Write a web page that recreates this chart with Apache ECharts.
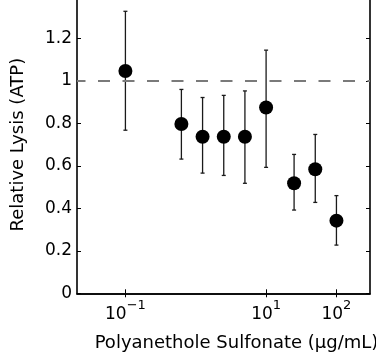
<!DOCTYPE html>
<html>
<head>
<meta charset="utf-8">
<script src="https://cdn.jsdelivr.net/npm/echarts@6/dist/echarts.min.js"></script>
<style>
  html, body { margin: 0; padding: 0; background: #fff; }
  #chart { width: 376px; height: 360px; }
</style>
</head>
<body>
<div id="chart"></div>
<script>
// Polyanethole sulfonate dose series (µg/mL) and relative lysis (ATP)
const concentrations = [0.1, 0.625, 1.25, 2.5, 5, 10, 25, 50, 100];
const relativeLysis  = [1.047, 0.797, 0.737, 0.737, 0.737, 0.875, 0.518, 0.584, 0.342];
const errorLower     = [0.768, 0.632, 0.566, 0.555, 0.518, 0.593, 0.392, 0.428, 0.227];
const errorUpper     = [1.328, 0.960, 0.922, 0.932, 0.953, 1.145, 0.654, 0.748, 0.460];

// Axis ticks
const xTickValues = [0.1, 10, 100];
const yTickStep = 0.2;
const referenceLevel = 1;

const FONT = 'DejaVu Sans';

function powerLabel(v) {
  const e = Math.round(Math.log10(v));
  const exp = e < 0 ? '\u2212' + (-e) : String(e);
  return '{b|10}{s|' + exp + '}';
}

const chart = echarts.init(document.getElementById('chart'), null, { renderer: 'canvas' });

const axisLine = { show: true, lineStyle: { color: '#000', width: 1.6 } };
const axisTick = { show: true, inside: true, length: 4, lineStyle: { color: '#000', width: 1 } };

chart.setOption({
  animation: false,
  backgroundColor: '#fff',
  grid: { left: 77, right: 6, top: -4, bottom: 66.7, containLabel: false, outerBoundsMode: 'none' },
  xAxis: [
    {
      type: 'log',
      logBase: 10,
      min: 0.0205,
      max: 300,
      position: 'bottom',
      axisLine: axisLine,
      axisTick: Object.assign({ customValues: xTickValues }, axisTick),
      minorTick: { show: false },
      splitLine: { show: false },
      axisLabel: {
        customValues: xTickValues,
        margin: 6,
        formatter: powerLabel,
        rich: {
          b: { fontFamily: FONT, fontSize: 17, color: '#000', lineHeight: 24, verticalAlign: 'bottom' },
          s: { fontFamily: FONT, fontSize: 13, color: '#000', lineHeight: 9, verticalAlign: 'top' }
        }
      },
      name: 'Polyanethole Sulfonate (\u03bcg/mL)',
      nameLocation: 'middle',
      nameGap: 41,
      nameTextStyle: { fontFamily: FONT, fontSize: 18, color: '#000', padding: [0, 0, 0, 26] }
    },
    {
      type: 'log',
      logBase: 10,
      min: 0.0205,
      max: 300,
      position: 'top',
      axisLine: axisLine,
      axisTick: Object.assign({ customValues: xTickValues }, axisTick),
      minorTick: { show: false },
      splitLine: { show: false },
      axisLabel: { show: false }
    }
  ],
  yAxis: [
    {
      type: 'value',
      min: 0,
      max: 1.4,
      interval: yTickStep,
      position: 'left',
      axisLine: axisLine,
      axisTick: axisTick,
      splitLine: { show: false },
      axisLabel: {
        margin: 5,
        fontFamily: FONT,
        fontSize: 17,
        color: '#000',
        formatter: v => (v > 1.3 ? '' : String(+v.toFixed(1)))
      },
      name: 'Relative Lysis (ATP)',
      nameLocation: 'middle',
      nameGap: 50,
      nameTextStyle: { fontFamily: FONT, fontSize: 18, color: '#000' }
    },
    {
      type: 'value',
      min: 0,
      max: 1.4,
      interval: yTickStep,
      position: 'right',
      axisLine: axisLine,
      axisTick: axisTick,
      splitLine: { show: false },
      axisLabel: { show: false }
    }
  ],
  series: [
    {
      name: 'error',
      type: 'custom',
      xAxisIndex: 0,
      yAxisIndex: 0,
      z: 2,
      silent: true,
      encode: { x: 0, y: [1, 2] },
      data: concentrations.map((c, i) => [c, errorLower[i], errorUpper[i]]),
      renderItem: function (params, api) {
        const x = api.value(0);
        const lo = api.coord([x, api.value(1)]);
        const hi = api.coord([x, api.value(2)]);
        const cap = 2;
        const style = { stroke: '#1a1a1a', lineWidth: 1.3 };
        return {
          type: 'group',
          children: [
            { type: 'line', shape: { x1: lo[0], y1: lo[1], x2: hi[0], y2: hi[1] }, style: style },
            { type: 'line', shape: { x1: hi[0] - cap, y1: hi[1], x2: hi[0] + cap, y2: hi[1] }, style: style },
            { type: 'line', shape: { x1: lo[0] - cap, y1: lo[1], x2: lo[0] + cap, y2: lo[1] }, style: style }
          ]
        };
      }
    },
    {
      name: 'lysis',
      type: 'scatter',
      xAxisIndex: 0,
      yAxisIndex: 0,
      z: 3,
      symbol: 'circle',
      symbolSize: 14,
      itemStyle: { color: '#000', opacity: 1 },
      data: concentrations.map((c, i) => [c, relativeLysis[i]]),
      markLine: {
        silent: true,
        symbol: 'none',
        label: { show: false },
        lineStyle: { color: '#7a7a7a', width: 2, type: [12, 12.5], dashOffset: 3.5, opacity: 1 },
        data: [{ yAxis: referenceLevel }]
      }
    }
  ]
});
</script>
</body>
</html>
